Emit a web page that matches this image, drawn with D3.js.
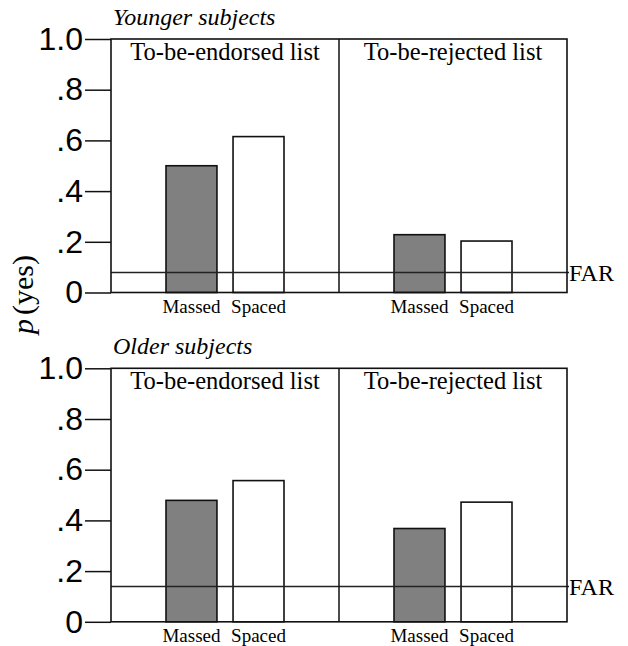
<!DOCTYPE html>
<html>
<head>
<meta charset="utf-8">
<script src="https://cdn.jsdelivr.net/npm/d3@7"></script>
<style>
  body { margin: 0; background: #fff; }
  svg { display: block; }
  .serif { font-family: "Liberation Serif", "Times New Roman", Times, "DejaVu Serif", serif; }
  .sans { font-family: "Liberation Sans", Arial, Helvetica, sans-serif; }
</style>
</head>
<body>
<svg class="chart"></svg>
<script>
// data
var groups = ["Younger subjects", "Older subjects"];
var lists = ["To-be-endorsed list", "To-be-rejected list"];
var conditions = ["Massed", "Spaced"];
var youngerValues = [[0.50, 0.615], [0.228, 0.203]];
var olderValues = [[0.479, 0.557], [0.368, 0.472]];
var farValues = [0.079, 0.139];
var yTicks = [0, 0.2, 0.4, 0.6, 0.8, 1.0];
var tickLabels = ["0", ".2", ".4", ".6", ".8", "1.0"];

let w = 628;
let h = 646;
let left = 111, right = 567;
let panelTops = [39, 368.3];
let panelH = 253.5;

var svg = d3.select(".chart")
            .attr("width", w)
            .attr("height", h);

var xList = d3.scaleBand()
         .domain(lists)
         .range([left, right])
         .padding(0);

var xCond = d3.scaleBand()
         .domain(conditions)
         .range([55, xList.bandwidth() - 55])
         .paddingInner(0.24)
         .paddingOuter(0);

var allValues = [youngerValues, olderValues];

groups.forEach(function(gName, gi) {
  var top = panelTops[gi];
  var yS = d3.scaleLinear()
           .domain([0, 1])
           .range([top + panelH, top]);

  var g = svg.append("g");

  // y axis
  var ax = g.append("g")
   .attr("transform", "translate(" + left + ",0)")
   .call(d3.axisLeft(yS).tickValues(yTicks)
          .tickFormat((d, i) => tickLabels[i])
          .tickSize(26).tickPadding(2));
  ax.attr("font-family", null).attr("font-size", null);
  ax.select(".domain").remove();
  ax.selectAll(".tick line").attr("stroke", "#111").attr("stroke-width", 1.5);
  ax.selectAll(".tick text")
    .attr("class", "sans")
    .attr("font-size", "32px")
    .attr("fill", "#000");

  // bars
  lists.forEach(function(lName, li) {
    var sec = g.append("g")
      .attr("transform", "translate(" + xList(lName) + ",0)");
    sec.selectAll("rect")
      .data(allValues[gi][li])
      .enter().append("rect")
      .attr("x", (d, i) => xCond(conditions[i]))
      .attr("y", d => yS(d))
      .attr("width", xCond.bandwidth())
      .attr("height", d => yS(0) - yS(d))
      .attr("fill", (d, i) => i === 0 ? "#808080" : "#fff")
      .attr("stroke", "#111")
      .attr("stroke-width", 1.6);

    sec.selectAll("text.cond")
      .data(conditions)
      .enter().append("text")
      .attr("class", "cond serif")
      .attr("x", d => xCond(d) + xCond.bandwidth() / 2)
      .attr("y", yS(0) + 20)
      .attr("text-anchor", "middle")
      .attr("font-size", "19px")
      .text(d => d);

    sec.append("text")
      .attr("class", "serif")
      .attr("x", xList.bandwidth() / 2)
      .attr("y", top + 21)
      .attr("text-anchor", "middle")
      .attr("font-size", "24.5px")
      .text(lName);
  });

  // FAR line
  g.append("line")
   .attr("x1", left).attr("x2", right + 2)
   .attr("y1", yS(farValues[gi])).attr("y2", yS(farValues[gi]))
   .attr("stroke", "#222").attr("stroke-width", 1.5);
  g.append("text")
   .attr("class", "serif")
   .attr("x", right + 2)
   .attr("y", yS(farValues[gi]))
   .attr("dy", "0.35em")
   .attr("font-size", "24px")
   .text("FAR");

  // frame and divider
  g.append("rect")
   .attr("x", left).attr("y", top)
   .attr("width", right - left).attr("height", panelH)
   .attr("fill", "none").attr("stroke", "#111").attr("stroke-width", 1.6);
  g.append("line")
   .attr("x1", xList(lists[1])).attr("x2", xList(lists[1]))
   .attr("y1", top).attr("y2", top + panelH)
   .attr("stroke", "#111").attr("stroke-width", 1.5);

  // group title
  g.append("text")
   .attr("class", "serif")
   .attr("x", 113)
   .attr("y", top - 14)
   .attr("font-style", "italic")
   .attr("font-size", "24px")
   .text(gName);
});

// y label
var yl = svg.append("text")
   .attr("class", "serif")
   .attr("transform", "translate(33, 294.5) rotate(-90)")
   .attr("text-anchor", "middle")
   .attr("font-size", "30px");
yl.append("tspan").attr("font-style", "italic").text("p");
yl.append("tspan").attr("dx", 4).text("(yes)");
</script>
</body>
</html>
